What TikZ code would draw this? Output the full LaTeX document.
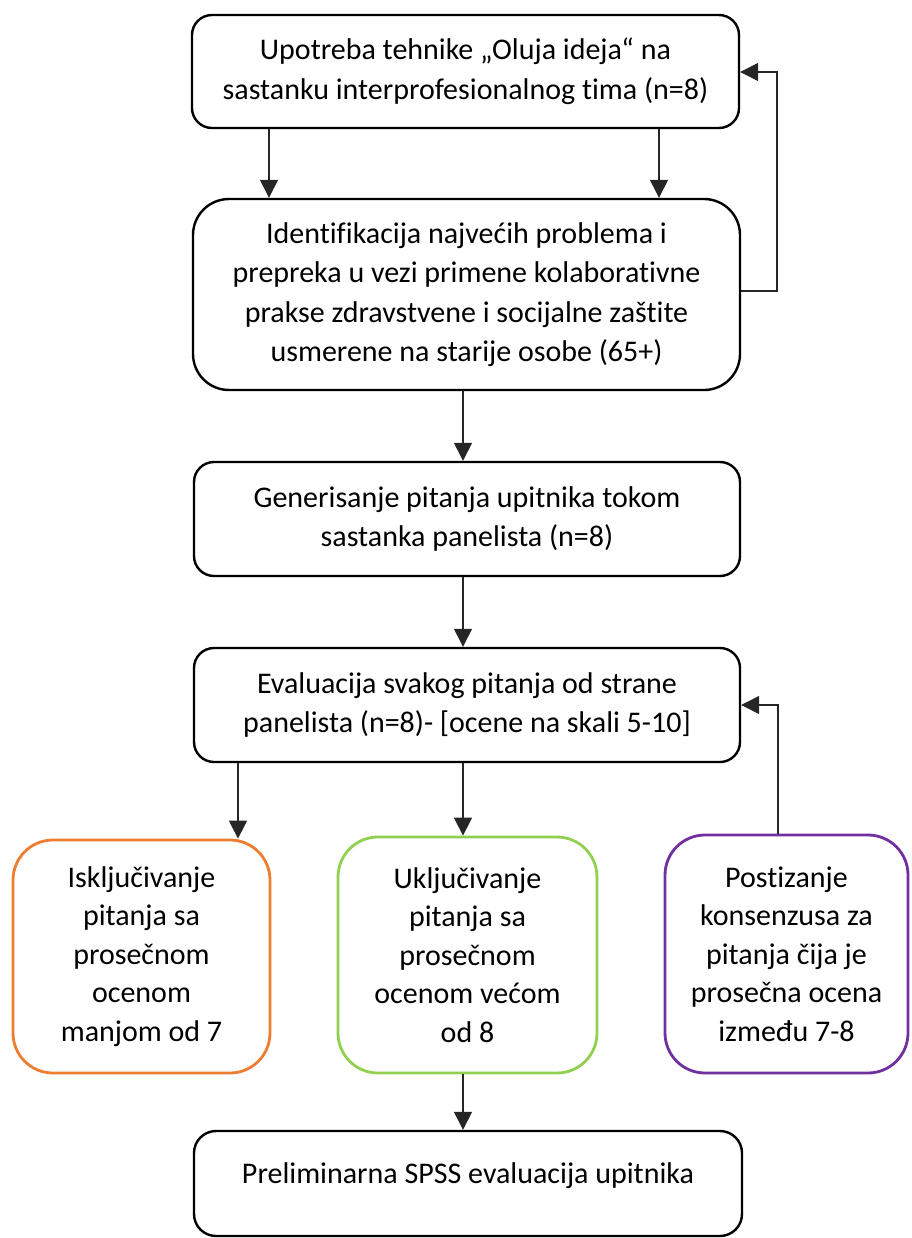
\documentclass[tikz,border=0pt]{standalone}
\usepackage{fontspec}
\setmainfont{Carlito}[Ligatures=NoCommon]
\usetikzlibrary{arrows.meta,calc}

\definecolor{excl}{HTML}{ED7D31}
\definecolor{incl}{HTML}{92D050}
\definecolor{cons}{HTML}{7030A0}

\tikzset{
  flowbox/.style={draw=black, line width=2.4pt, rounded corners=#1, fill=white,
    align=center, inner sep=0pt, font=\fontsize{30}{39.5}\selectfont},
  flowbox/.default=20pt,
  optbox/.style={draw=#1, line width=2.8pt, rounded corners=40pt, fill=white,
    align=center, inner sep=0pt, font=\fontsize{30}{38.5}\selectfont,
    minimum height=236pt},
  conn/.style={line width=1.4pt, draw=black!85},
  arr/.style={conn, -{Triangle[length=18pt,width=18pt]}},
}

\begin{document}
\begin{tikzpicture}[x=1pt,y=-1pt]
  \useasboundingbox (0,0) rectangle (911,1238);

  % main column of steps
  \node[flowbox=20pt, minimum width=547pt, minimum height=113pt] (b1) at (465.5,71.5)
    {Upotreba tehnike „Oluja ideja“ na\\sastanku interprofesionalnog tima (n=8)};
  \node[flowbox=36pt, minimum width=547pt, minimum height=191pt] (b2) at (466.5,294.5)
    {Identifikacija najvećih problema i\\prepreka u vezi primene kolaborativne\\prakse zdravstvene i socijalne zaštite\\usmerene na starije osobe (65+)};
  \node[flowbox=20pt, minimum width=546pt, minimum height=114pt] (b3) at (467,519)
    {Generisanje pitanja upitnika tokom\\sastanka panelista (n=8)};
  \node[flowbox=20pt, minimum width=546pt, minimum height=114pt] (b4) at (467,705)
    {Evaluacija svakog pitanja od strane\\panelista (n=8)- [ocene na skali 5-10]};

  % three outcomes of the evaluation
  \node[optbox=excl, minimum width=257pt, minimum height=233pt] (ex) at (141.5,956.5)
    {Isključivanje\\pitanja sa\\prosečnom\\ocenom\\manjom od 7};
  \node[optbox=incl, minimum width=259pt] (in) at (467.5,955)
    {Uključivanje\\pitanja sa\\prosečnom\\ocenom većom\\od 8};
  \node[optbox=cons, minimum width=243pt, minimum height=238pt] (co) at (786.5,954)
    {Postizanje\\konsenzusa za\\pitanja čija je\\prosečna ocena\\između 7-8};

  % final step
  \node[flowbox=22pt, minimum width=548pt, minimum height=105pt] (b5) at (468,1183.5) {};
  \node[font=\fontsize{30}{39.5}\selectfont, inner sep=0pt] (b5t) at (468,1176)
    {Preliminarna SPSS evaluacija upitnika};

  % guide coordinates for connector columns
  \coordinate (xl) at (269,0);
  \coordinate (xr) at (659,0);
  \coordinate (xm) at (463,0);
  \coordinate (xo) at (238,0);
  \coordinate (xf) at (777,0);
  \coordinate (xc) at (778,0);
  \coordinate (yb2) at (0,291);
  \coordinate (yb1) at (0,72);
  \coordinate (yb4) at (0,705);

  \draw[arr] (b1.south -| xl) -- (b2.north -| xl);
  \draw[arr] (b1.south -| xr) -- (b2.north -| xr);
  \draw[arr] (b2.east |- yb2) -- (xf |- yb2) -- (xf |- yb1) -- (b1.east |- yb1);

  \draw[arr] (b2.south -| xm) -- (b3.north -| xm);
  \draw[arr] (b3.south -| xm) -- (b4.north -| xm);

  \draw[arr] (b4.south -| xo) -- (ex.north -| xo);
  \draw[arr] (b4.south -| xm) -- (in.north -| xm);
  \draw[arr] (co.north -| xc) -- (xc |- yb4) -- (b4.east |- yb4);

  \draw[arr] (in.south -| xm) -- (b5.north -| xm);
\end{tikzpicture}
\end{document}
